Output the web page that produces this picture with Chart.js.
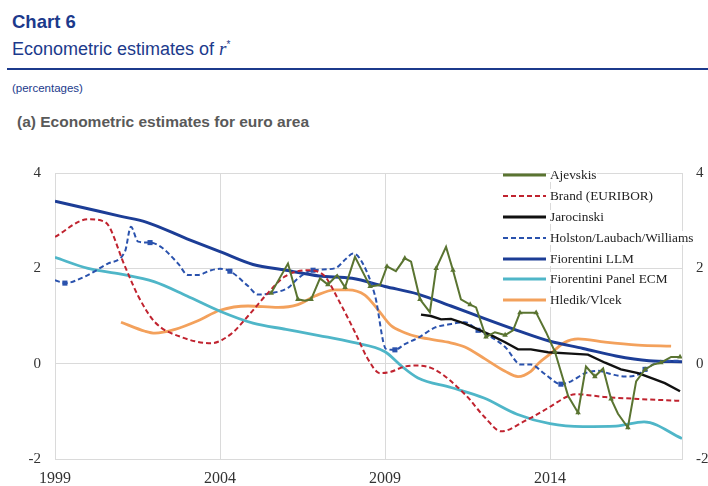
<!DOCTYPE html>
<html>
<head>
<meta charset="utf-8">
<script src="https://cdn.jsdelivr.net/npm/chart.js@4"></script>
<style>
  body { margin: 0; background: #fff; }
  #wrap { position: relative; width: 708px; height: 486px; overflow: hidden; background: #fff; font-family: "Liberation Sans", Arial, sans-serif; }
  .navy { color: #1c3a8c; }
  #t1 { position: absolute; left: 12px; top: 13px; font-size: 18.5px; line-height: 18px; font-weight: bold; }
  #t2 { position: absolute; left: 12px; top: 40px; font-size: 18px; line-height: 18px; white-space: nowrap; }
  #t2 i { font-family: "Liberation Serif", serif; font-style: italic; font-size: 19px; }
  #t2 sup { font-size: 10px; vertical-align: 7px; line-height: 0; }
  #rule { position: absolute; left: 7px; right: 0; top: 68px; height: 1.5px; background: #1c3a8c; }
  #t3 { position: absolute; left: 12px; top: 83px; font-size: 11.5px; line-height: 11.5px; }
  #t4 { position: absolute; left: 17px; top: 114px; font-size: 15.5px; line-height: 15.5px; font-weight: bold; color: #595959; }
  #plot { position: absolute; left: 0; top: 150px; width: 708px; height: 336px; }
  #legend { position: absolute; left: 503px; top: 165px; font-family: "Liberation Serif", "Times New Roman", serif; font-size: 13.3px; color: #222; }
  .leg { display: flex; align-items: center; height: 20.8px; }
  .leg svg { flex: none; }
  .leg span { margin-left: 4px; background: #fff; line-height: 14px; white-space: nowrap; }
</style>
</head>
<body>
<div id="wrap">
  <div id="t1" class="navy">Chart 6</div>
  <div id="t2" class="navy">Econometric estimates of <i>r</i><sup>*</sup></div>
  <div id="rule"></div>
  <div id="t3" class="navy">(percentages)</div>
  <div id="t4">(a) Econometric estimates for euro area</div>
  <div id="plot"><canvas id="c" width="708" height="336"></canvas></div>
  <div id="legend"></div>
</div>
<script>
// ---- Daten ----
const X_TICKS = [1999, 2004, 2009, 2014];

const AJ_X = [2005.55, 2006.06, 2006.36, 2006.58, 2006.76, 2007.03, 2007.27, 2007.55, 2007.79, 2008.09, 2008.55, 2008.85,
  2009.06, 2009.33, 2009.6, 2009.79, 2010.06, 2010.36, 2010.55, 2010.85, 2011.06, 2011.3, 2011.58, 2011.76,
  2012.06, 2012.33, 2012.64, 2012.88, 2013.09, 2013.33, 2013.58, 2013.88, 2014.15, 2014.55, 2014.85, 2015.09,
  2015.36, 2015.61, 2015.85, 2016.06, 2016.36, 2016.61, 2016.88, 2017.12, 2017.36, 2017.67, 2017.94];
const AJ_Y = [1.48, 2.1, 1.35, 1.32, 1.35, 1.79, 1.66, 1.86, 1.6, 2.24, 1.62, 1.65,
  2.04, 1.94, 2.21, 2.14, 1.35, 1.08, 2.0, 2.45, 1.96, 1.35, 1.24, 1.18,
  0.56, 0.66, 0.6, 0.7, 1.07, 1.07, 1.07, 0.66, 0.25, -0.68, -1.03, -0.06,
  -0.27, -0.1, -0.74, -1.05, -1.34, -0.37, -0.12, -0.02, 0.02, 0.14, 0.14];

const BRAND_X = [1999, 2000, 2000.52, 2001.12, 2001.52, 2002.03, 2002.82, 2003.73, 2004.33, 2004.85, 2005.45, 2005.97,
  2006.67, 2007.18, 2007.58, 2008.09, 2008.48, 2008.85, 2009.18, 2009.6, 2010, 2010.52, 2011.42, 2012.03,
  2012.52, 2013.24, 2013.94, 2014.55, 2014.76, 2015.67, 2016.67, 2017.94];
const BRAND_Y = [2.66, 3.03, 2.97, 2.04, 1.42, 0.87, 0.56, 0.43, 0.62, 1.0, 1.48, 1.83,
  1.96, 1.83, 1.35, 0.66, 0.1, -0.2, -0.17, -0.06, -0.04, -0.13, -0.64, -1.13,
  -1.42, -1.2, -0.93, -0.68, -0.64, -0.7, -0.74, -0.78];

const JARO_X = [2010.09, 2010.39, 2010.7, 2011, 2011.42, 2011.82, 2012.21, 2012.64, 2013.03, 2013.42, 2013.94,
  2014.64, 2015.15, 2015.67, 2016.15, 2016.67, 2017.18, 2017.48, 2017.94];
const JARO_Y = [1.03, 1.0, 0.93, 0.94, 0.84, 0.72, 0.6, 0.45, 0.3, 0.3, 0.24,
  0.21, 0.19, 0.02, -0.12, -0.2, -0.33, -0.41, -0.58];

const HLW_X = [1999, 1999.3, 1999.91, 2000.6, 2001.12, 2001.3, 2001.52, 2001.88, 2002.21, 2002.73, 2003.03, 2003.33,
  2003.73, 2004, 2004.3, 2004.85, 2005.15, 2005.55, 2006.06, 2006.36, 2006.82, 2007.48, 2007.82, 2008.03,
  2008.27, 2008.7, 2009.03, 2009.3, 2009.6, 2010, 2010.52, 2010.91, 2011.42, 2011.82, 2012.21, 2012.64,
  2013.12, 2013.42, 2013.85, 2014.33, 2014.64, 2015.06, 2015.45, 2015.85, 2016.27, 2016.67, 2016.88, 2017.18,
  2017.52, 2017.94];
const HLW_Y = [1.75, 1.69, 1.83, 2.1, 2.35, 2.87, 2.56, 2.54, 2.45, 2.1, 1.86, 1.86,
  1.96, 1.99, 1.94, 1.63, 1.45, 1.48, 1.59, 1.79, 1.96, 2.0, 2.2, 2.31,
  2.17, 1.42, 0.31, 0.29, 0.41, 0.54, 0.76, 0.82, 0.87, 0.7, 0.56, 0.35,
  -0.02, -0.02, -0.22, -0.43, -0.37, -0.2, -0.15, -0.22, -0.27, -0.23, -0.12, 0.0,
  0.06, 0.06];
const HLW_MARKS = [1999.3, 2001.88, 2004.3, 2006.82, 2009.3, 2011.82, 2014.33, 2016.88];

const LLM_X = [1999, 2000, 2001, 2001.76, 2003, 2004, 2005, 2006, 2007, 2008, 2009, 2010, 2011, 2012, 2013, 2014, 2015, 2016, 2017, 2018];
const LLM_Y = [3.41, 3.25, 3.09, 2.97, 2.62, 2.35, 2.08, 1.96, 1.84, 1.79, 1.62, 1.46, 1.21, 0.95, 0.70, 0.47, 0.32, 0.16, 0.06, 0.04];

const ECM_X = [1999, 2000, 2001, 2002, 2003, 2004, 2005, 2006, 2007, 2008, 2009, 2009.5, 2010, 2011, 2012, 2013, 2014, 2015, 2016, 2016.85, 2018];
const ECM_Y = [2.23, 2.0, 1.88, 1.72, 1.42, 1.1, 0.85, 0.72, 0.59, 0.45, 0.25, -0.05, -0.3, -0.5, -0.72, -1.06, -1.26, -1.32, -1.31, -1.22, -1.57];

const HV_X = [2001, 2001.73, 2002.03, 2002.64, 2003.33, 2004, 2004.85, 2005.76, 2006.36, 2006.88, 2007.48, 2007.88,
  2008.39, 2008.79, 2009.18, 2009.6, 2010, 2010.91, 2011.42, 2012.03, 2012.64, 2013.03, 2013.42, 2013.64,
  2014, 2014.45, 2014.85, 2015.67, 2016.67, 2017.67];
const HV_Y = [0.87, 0.68, 0.64, 0.72, 0.9, 1.12, 1.21, 1.18, 1.24, 1.42, 1.55, 1.55,
  1.44, 1.13, 0.8, 0.65, 0.56, 0.45, 0.35, 0.1, -0.16, -0.27, -0.16, 0.0,
  0.2, 0.45, 0.52, 0.45, 0.39, 0.37];

// ---- Stil ----
const GRID = '#dadada';
const TICK = '#333';
const SERIF = '"Liberation Serif", "Times New Roman", serif';

function pts(xs, ys) { return xs.map((x, i) => ({ x: x, y: ys[i] })); }

const SERIES = [
  { name: 'Ajevskis', color: '#5a7431', width: 2, dash: [], data: pts(AJ_X, AJ_Y), smooth: false, marker: 'tri' },
  { name: 'Brand (EURIBOR)', color: '#c0232f', width: 2, dash: [5, 3], data: pts(BRAND_X, BRAND_Y), smooth: true },
  { name: 'Jarocinski', color: '#111111', width: 2.4, dash: [], data: pts(JARO_X, JARO_Y), smooth: false },
  { name: 'Holston/Laubach/Williams', color: '#2a52ad', width: 2, dash: [5, 3], data: pts(HLW_X, HLW_Y), smooth: true, marker: 'sq' },
  { name: 'Fiorentini LLM', color: '#1c3d96', width: 3, dash: [], data: pts(LLM_X, LLM_Y), smooth: true },
  { name: 'Fiorentini Panel ECM', color: '#4fb6c8', width: 2.8, dash: [], data: pts(ECM_X, ECM_Y), smooth: true },
  { name: 'Hledik/Vlcek', color: '#f3a15c', width: 2.8, dash: [], data: pts(HV_X, HV_Y), smooth: true },
];

function radiusFor(s) {
  if (s.marker === 'tri') return c => (c.dataIndex % 2 === 0 ? 3.2 : 0);
  if (s.marker === 'sq') return c => (HLW_MARKS.includes(s.data[c.dataIndex].x) ? 3.6 : 0);
  return 0;
}

const datasets = SERIES.map(s => ({
  label: s.name,
  data: s.data,
  borderColor: s.color,
  backgroundColor: s.color,
  borderWidth: s.width,
  borderDash: s.dash,
  pointStyle: s.marker === 'sq' ? 'rect' : 'triangle',
  pointRadius: radiusFor(s),
  pointBorderWidth: 0,
  cubicInterpolationMode: s.smooth ? 'monotone' : 'default',
  tension: 0,
  fill: false,
}));

new Chart(document.getElementById('c'), {
  type: 'line',
  data: { datasets: datasets },
  options: {
    responsive: false,
    animation: false,
    events: [],
    layout: { padding: { top: 18, left: 0, right: 0, bottom: 0 } },
    plugins: { legend: { display: false }, tooltip: { enabled: false } },
    scales: {
      x: {
        type: 'linear', min: 1999, max: 2018,
        afterBuildTicks: s => { s.ticks = X_TICKS.map(v => ({ value: v })); },
        afterFit: s => { s.height = 27; },
        grid: { color: GRID, drawTicks: false },
        border: { color: GRID },
        ticks: { color: TICK, font: { family: SERIF, size: 16 }, padding: 10, maxRotation: 0, callback: v => String(v) },
      },
      y: {
        position: 'left', min: -2, max: 4,
        afterFit: s => { s.width = 55; },
        grid: { color: GRID, drawTicks: false },
        border: { color: GRID },
        ticks: { stepSize: 2, color: TICK, font: { family: SERIF, size: 15 }, padding: 14 },
      },
      y2: {
        position: 'right', min: -2, max: 4,
        afterFit: s => { s.width = 26; },
        grid: { display: false, drawTicks: false },
        border: { color: GRID },
        ticks: { stepSize: 2, color: TICK, font: { family: SERIF, size: 15 }, padding: 14 },
      },
    },
  },
});

// ---- Legende (HTML) ----
const leg = document.getElementById('legend');
SERIES.forEach(s => {
  const row = document.createElement('div');
  row.className = 'leg';
  const dash = s.dash.length ? ' stroke-dasharray="5 3"' : '';
  row.innerHTML = '<svg width="43" height="6"><line x1="0" y1="3" x2="43" y2="3" stroke="' + s.color +
    '" stroke-width="' + (s.dash.length ? 2.2 : 3) + '"' + dash + '/></svg><span>' + s.name + '</span>';
  leg.appendChild(row);
});
</script>
</body>
</html>
